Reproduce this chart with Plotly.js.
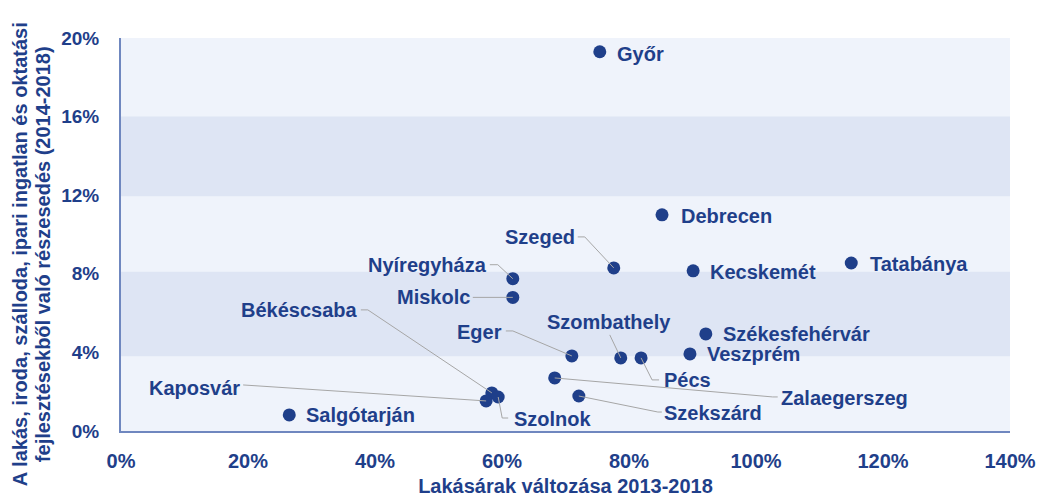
<!DOCTYPE html>
<html>
<head>
<meta charset="utf-8">
<script src="https://cdn.plot.ly/plotly-3.0.1.min.js"></script>
<style>html,body{margin:0;padding:0;background:#fff;}#chart{width:1038px;height:497px;}</style>
</head>
<body>
<div id="chart"></div>
<script>
// Data (percent)
var cities = ["Győr","Debrecen","Szeged","Nyíregyháza","Miskolc","Kecskemét","Tatabánya","Székesfehérvár","Veszprém","Szombathely","Pécs","Eger","Zalaegerszeg","Szekszárd","Békéscsaba","Szolnok","Kaposvár","Salgótarján"];
var priceChange = [75.4, 85.2, 77.6, 61.7, 61.7, 90.1, 115.0, 92.1, 89.6, 78.7, 81.9, 71.0, 68.3, 72.1, 58.4, 59.4, 57.5, 26.5];
var devShare    = [19.3, 11.0, 8.3, 7.75, 6.8, 8.15, 8.55, 4.94, 3.92, 3.72, 3.72, 3.82, 2.7, 1.78, 1.94, 1.73, 1.53, 0.82];
var xTicks = [0, 20, 40, 60, 80, 100, 120, 140];
var yTicks = [0, 4, 8, 12, 16, 20];

// Label placement (pixels relative to point; y up positive)
var labelAnchor = ["left","left","right","right","right","left","left","left","left","center","left","right","left","left","right","left","right","left"];
var labelDx = [15, 17, -37, -24, -41, 15, 17, 15, 15, -12, 21, -68, 224, 83, -132, 14, -244, 15];
var labelDy = [-2, -1, 31, 14, 0, -1, -1, 0, 0, 36, -22, 24, -20, -17, 83, -22, 13, 0];
var leaders = [null, null,
  "M-36,31 L-29,31 L0,0", "M-23,14 L-15,14 L0,0", "M-40,0 L0,0", null, null, null, null,
  "M-11,23 L0,0", "M18,-22 L11,-22 L0,0", "M-66,25 L-59,25 L0,0", "M223,-19 L218,-19 L0,0",
  "M83,-16 L79,-16 L0,0", "M-131,83 L-124,83 L0,0", "M10,-21 L4,-21 L0,0", "M-243,16 L0,0", null];

var navy = "#1f3f8a";
var bands = [[3.8, 8.1], [11.95, 16]];

var shapes = bands.map(function(b){
  return {type:"rect", xref:"paper", yref:"y", x0:0, x1:1, y0:b[0], y1:b[1],
          fillcolor:"#dee5f4", line:{width:0}, layer:"below"};
});
cities.forEach(function(c, i){
  if (leaders[i]) {
    shapes.push({type:"path", xref:"x", yref:"y", xsizemode:"pixel", ysizemode:"pixel",
      xanchor: priceChange[i], yanchor: devShare[i], path: leaders[i],
      line:{color:"#a6a6a6", width:1}, layer:"above"});
  }
});

var annotations = cities.map(function(c, i){
  return {x: priceChange[i], y: devShare[i], xref:"x", yref:"y", text: c, showarrow:false,
    xanchor: labelAnchor[i], yanchor:"middle", xshift: labelDx[i], yshift: labelDy[i],
    font:{family:"Liberation Sans, Arial, sans-serif", size:20, color:navy, weight:"bold"}};
});
annotations.push({xref:"paper", yref:"paper", x:0, y:0.45, xshift:-101, xanchor:"center", yanchor:"middle",
  textangle:-90, showarrow:false, text:"A lakás, iroda, szálloda, ipari ingatlan és oktatási",
  font:{family:"Liberation Sans, Arial, sans-serif", size:20, color:navy, weight:"bold"}});
annotations.push({xref:"paper", yref:"paper", x:0, y:0.45, xshift:-78, xanchor:"center", yanchor:"middle",
  textangle:-90, showarrow:false, text:"fejlesztésekből való részesedés (2014-2018)",
  font:{family:"Liberation Sans, Arial, sans-serif", size:20, color:navy, weight:"bold"}});

var trace = {x: priceChange, y: devShare, text: cities, type:"scatter", mode:"markers",
  marker:{color:navy, size:13}, hoverinfo:"text", cliponaxis:false};

var layout = {
  width:1038, height:497,
  margin:{l:121, r:28, t:38, b:66},
  paper_bgcolor:"#ffffff", plot_bgcolor:"#eff3fb",
  showlegend:false,
  xaxis:{range:[0,140], tickvals:xTicks, ticktext:xTicks.map(function(v){return v+"%";}),
    showgrid:false, zeroline:false, showline:true, linecolor:"#6f87bf", linewidth:2,
    ticks:"", ticklabelstandoff:11,
    tickfont:{family:"Liberation Sans, Arial, sans-serif", size:20, color:navy, weight:"bold"},
    title:{text:"Lakásárak változása 2013-2018", standoff:8,
      font:{family:"Liberation Sans, Arial, sans-serif", size:20, color:navy, weight:"bold"}}},
  yaxis:{range:[0,20], tickvals:yTicks, ticktext:yTicks.map(function(v){return v+"%";}),
    showgrid:false, zeroline:false, showline:true, linecolor:"#6f87bf", linewidth:2,
    ticks:"", ticklabelstandoff:16,
    tickfont:{family:"Liberation Sans, Arial, sans-serif", size:19, color:navy, weight:"bold"}},
  shapes: shapes,
  annotations: annotations
};

Plotly.newPlot("chart", [trace], layout, {staticPlot:true, displayModeBar:false});
</script>
</body>
</html>
